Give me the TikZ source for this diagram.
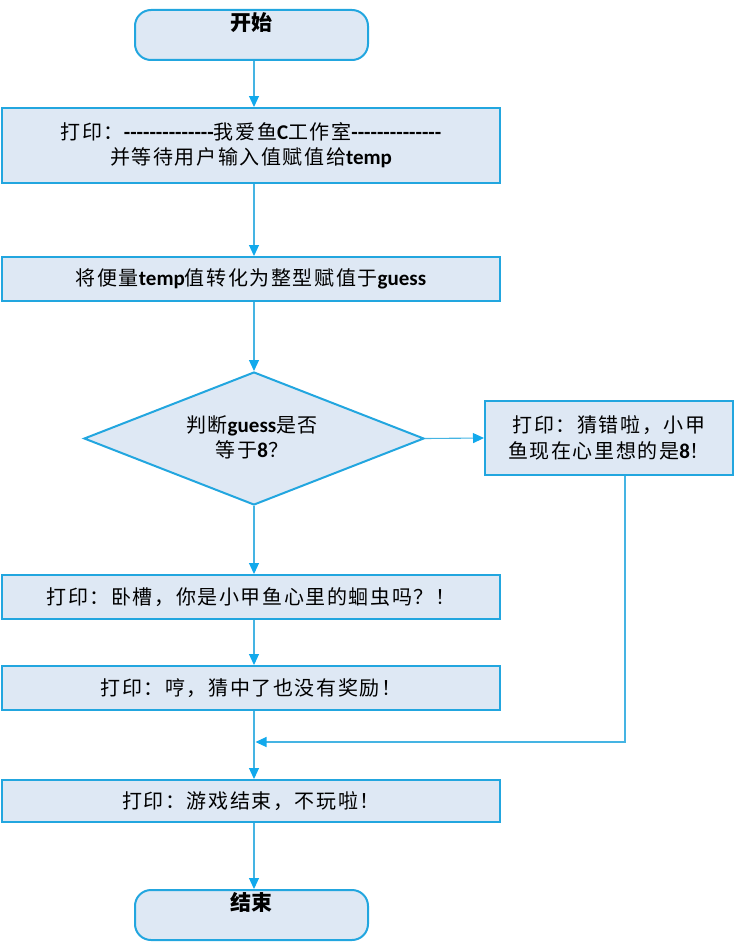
\documentclass[tikz,border=0pt]{standalone}
\usepackage{fontspec}
\usetikzlibrary{shapes.geometric,arrows.meta}
\newfontfamily\cjk{Noto Sans CJK SC}[LetterSpace=8]
\newfontfamily\cjkt{Noto Sans CJK SC}
\newfontfamily\latf{Carlito}[Scale=1.05]
\newcommand\zhs[1]{{\cjk #1}}
\newcommand\latb[1]{{\latf\bfseries #1}}
\definecolor{bord}{HTML}{22A6DF}
\definecolor{fillc}{HTML}{DEE8F4}
\definecolor{connc}{HTML}{45B4E3}
\definecolor{tipc}{HTML}{12A9EC}
\begin{document}
\begin{tikzpicture}[x=1pt,y=-1pt,
  box/.style={draw=bord, line width=2pt, fill=fillc, inner sep=0pt},
  term/.style={box, rounded corners=16pt, minimum width=233pt, minimum height=50pt},
  proc/.style={box, minimum width=498pt, align=center, font=\fontsize{20}{25}\selectfont},
  lbl/.style={font=\fontsize{20}{25}\selectfont, align=center, inner sep=0pt},
  conn/.style={draw=connc, line width=1.1pt, -{Triangle[length=11pt,width=10pt,color=tipc]}}
]
\useasboundingbox (0,0) rectangle (735,942);
% terminals
\node[term] (start) at (251.5,35) {};
\node[lbl, font=\fontsize{21}{24}\selectfont] (starttxt) at (251,23) {\cjkt\bfseries 开始};
\node[term] (end) at (251.5,915) {};
\node[lbl, font=\fontsize{21}{24}\selectfont] (endtxt) at (251,902) {\cjkt\bfseries 结束};
% process boxes
\node[proc, minimum height=75pt] (box1) at (251,145.5)
  {\zhs{打印：}\latb{--------------}\zhs{我爱鱼}\latb{C}\zhs{工作室}\latb{--------------}\\
   \zhs{并等待用户输入值赋值给}\latb{temp}};
\node[proc, minimum height=44pt] (box2) at (251,279)
  {\zhs{将便量}\latb{temp}\zhs{值转化为整型赋值于}\latb{guess}};
\node[box, diamond, minimum width=340pt, minimum height=133pt] (dia) at (254,438.5) {};
\node[lbl] (diatxt) at (252,437.5)
  {\zhs{判断}\latb{guess}\zhs{是否}\\\zhs{等于}\latb{8}\zhs{？}};
\node[box, minimum width=248pt, minimum height=74pt, align=center,
      font=\fontsize{20}{26}\selectfont] (rbox) at (609,438)
  {\zhs{打印：猜错啦，小甲}\\\zhs{鱼现在心里想的是}\latb{8}\zhs{！}};
\node[proc, minimum height=44pt] (box3) at (251,597)
  {\zhs{打印：卧槽，你是小甲鱼心里的蛔虫吗？！}};
\node[proc, minimum height=44pt] (box4) at (251,688)
  {\zhs{打印：哼，猜中了也没有奖励！}};
\node[proc, minimum height=42pt] (box5) at (251,801)
  {\zhs{打印：游戏结束，不玩啦！}};
% connectors
\draw[conn] (start.south -| dia) -- (box1.north -| dia);
\draw[conn] (box1.south -| dia) -- (box2.north -| dia);
\draw[conn] (box2.south -| dia) -- (dia.north);
\draw[conn] (dia.east) -- (rbox.west);
\draw[conn] (dia.south) -- (box3.north -| dia);
\draw[conn] (box3.south -| dia) -- (box4.north -| dia);
\draw[conn] (box4.south -| dia) -- (box5.north -| dia);
\draw[conn] (box5.south -| dia) -- (end.north -| dia);
\coordinate (mr) at (625,742);
\coordinate (ml) at (255.5,742);
\draw[conn] (rbox.south -| mr) -- (mr) -- (ml);
\end{tikzpicture}
\end{document}
